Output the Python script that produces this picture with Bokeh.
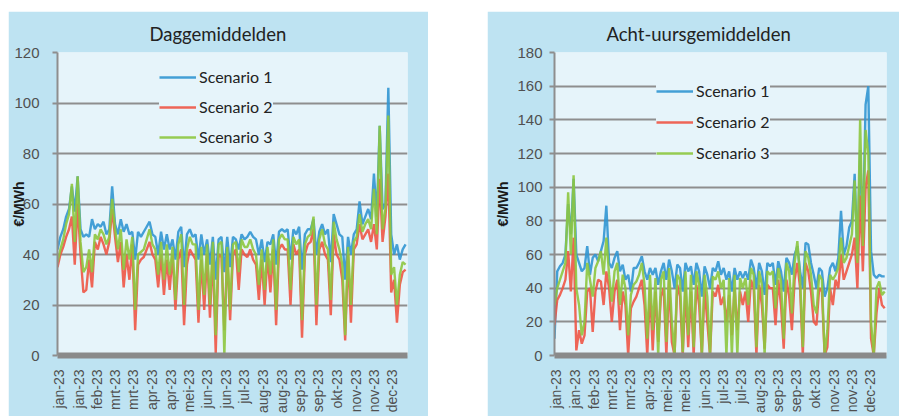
from math import pi
from bokeh.plotting import figure
from bokeh.layouts import row, column
from bokeh.models import Range1d, Legend, LegendItem, FixedTicker, Spacer
from bokeh.embed import file_html
from bokeh.resources import INLINE

# ---------------- data ----------------
series_names = ["Scenario 1", "Scenario 2", "Scenario 3"]

# day index (every third day of 2023)
days = list(range(0, 365, 3))

# Daggemiddelden (€/MWh)
day_s1 = [42, 47, 50, 55, 58, 67, 57, 71, 50, 47,
          48, 47, 54, 50, 52, 51, 53, 48, 50, 67,
          52, 48, 54, 49, 52, 48, 49, 38, 49, 47,
          49, 51, 53, 48, 47, 40, 49, 42, 48, 42,
          46, 38, 49, 51, 35, 48, 50, 47, 48, 38,
          48, 40, 46, 36, 47, 30, 46, 47, 33, 47,
          35, 47, 46, 42, 48, 46, 47, 49, 47, 46,
          40, 46, 37, 45, 44, 48, 36, 49, 50, 49,
          50, 38, 50, 48, 51, 34, 48, 50, 50, 54,
          40, 49, 52, 48, 50, 37, 56, 52, 48, 47,
          30, 47, 40, 48, 50, 61, 52, 55, 58, 54,
          72, 55, 91, 58, 60, 106, 48, 40, 44, 38, 42, 44]
day_s2 = [35, 40, 43, 47, 50, 55, 36, 60, 40, 25,
          26, 38, 27, 45, 42, 47, 44, 40, 45, 58,
          47, 37, 45, 27, 40, 30, 44, 10, 36, 38,
          39, 42, 45, 40, 38, 27, 40, 24, 38, 26,
          40, 18, 38, 42, 12, 36, 42, 40, 38, 13,
          38, 18, 40, 15, 41, 1, 40, 39, 10, 40,
          14, 40, 42, 26, 42, 40, 39, 42, 38, 36,
          22, 38, 20, 40, 25, 42, 12, 42, 44, 42,
          42, 20, 44, 40, 42, 7, 40, 44, 45, 50,
          12, 42, 45, 40, 38, 16, 48, 40, 38, 30,
          6, 40, 13, 42, 44, 52, 46, 48, 50, 45,
          52, 42, 70, 45, 55, 72, 25, 30, 13, 28, 33, 34]
day_s3 = [37, 42, 46, 52, 56, 68, 45, 71, 45, 33,
          35, 42, 33, 48, 46, 50, 48, 44, 47, 62,
          50, 42, 50, 34, 46, 38, 47, 18, 40, 41,
          42, 46, 50, 44, 42, 32, 45, 30, 44, 32,
          43, 22, 44, 48, 20, 42, 47, 44, 44, 18,
          43, 24, 44, 20, 45, 8, 44, 45, 0, 43,
          18, 44, 45, 33, 46, 43, 43, 46, 42, 40,
          28, 42, 26, 43, 32, 46, 18, 46, 48, 46,
          46, 26, 47, 44, 46, 14, 44, 47, 48, 55,
          20, 46, 50, 44, 42, 22, 53, 46, 42, 36,
          8, 43, 20, 45, 47, 56, 49, 52, 54, 50,
          66, 48, 91, 50, 58, 95, 32, 35, 20, 32, 37, 36]

# Acht-uursgemiddelden (€/MWh)
eight_s1 = [10, 50, 53, 55, 60, 90, 72, 105, 60, 55,
            50, 52, 65, 48, 58, 60, 56, 62, 68, 89,
            55, 52, 58, 62, 50, 54, 45, 48, 38, 52,
            52, 55, 59, 50, 45, 52, 48, 52, 42, 50,
            55, 45, 57, 50, 40, 54, 52, 38, 55, 50,
            53, 42, 55, 50, 35, 53, 48, 40, 52, 50,
            56, 48, 52, 45, 50, 38, 52, 45, 50, 46,
            50, 45, 57, 52, 40, 55, 50, 36, 55, 53,
            55, 42, 56, 50, 38, 58, 55, 48, 60, 65,
            50, 40, 67, 66, 55, 48, 40, 52, 50, 35,
            40, 52, 55, 50, 58, 86, 60, 65, 76, 80,
            108, 60, 122, 70, 149, 160, 62, 48, 46, 48, 47, 47]
eight_s2 = [18, 33, 36, 40, 45, 62, 38, 70, 3, 15,
            7, 12, 38, 40, 14, 38, 45, 44, 30, 50,
            40, 20, 38, 45, 15, 38, 30, 0, 28, 32,
            35, 40, 45, 30, 0, 40, 3, 38, 8, 35,
            40, 0, 45, 8, 0, 42, 35, 0, 40, 5,
            38, 0, 42, 30, 0, 40, 20, 0, 38, 35,
            42, 30, 35, 20, 36, 12, 40, 15, 38, 30,
            38, 20, 45, 40, 0, 42, 30, 4, 42, 40,
            40, 18, 45, 30, 4, 45, 35, 15, 45, 55,
            40, 0, 55, 50, 38, 20, 18, 40, 38, 0,
            5, 40, 30, 45, 40, 60, 45, 50, 55, 60,
            70, 40, 95, 50, 100, 110, 10, 0, 25, 40, 30, 28]
eight_s3 = [30, 40, 45, 50, 55, 97, 60, 107, 40, 30,
            12, 20, 55, 45, 35, 52, 56, 62, 48, 70,
            48, 32, 50, 55, 30, 48, 40, 12, 36, 42,
            44, 48, 55, 42, 10, 48, 15, 46, 0, 45,
            50, 8, 52, 20, 0, 48, 45, 2, 50, 12,
            48, 5, 50, 42, 0, 48, 35, 0, 47, 45,
            50, 40, 45, 0, 46, 0, 48, 0, 46, 40,
            46, 30, 52, 48, 5, 50, 42, 0, 50, 48,
            50, 28, 52, 44, 10, 55, 50, 25, 55, 68,
            46, 5, 62, 58, 48, 30, 25, 48, 45, 0,
            15, 48, 45, 48, 52, 70, 55, 58, 65, 72,
            104, 55, 140, 65, 134, 120, 20, 0, 40, 44, 36, 38]

left_tick_labels = ["jan-23", "jan-23", "feb-23", "mrt-23", "mrt-23", "apr-23", "apr-23",
                    "mei-23", "jun-23", "jun-23", "jul-23", "aug-23", "aug-23", "sep-23",
                    "sep-23", "okt-23", "nov-23", "nov-23", "dec-23"]
right_tick_labels = ["jan-23", "jan-23", "feb-23", "mrt-23", "mrt-23", "apr-23", "mei-23",
                     "mei-23", "jun-23", "jul-23", "jul-23", "aug-23", "sep-23", "sep-23",
                     "okt-23", "nov-23", "nov-23", "dec-23"]

# ---------------- style ----------------
PANEL = "#bee3f2"
PLOT = "#e6f4fa"
GRID = "#8e8e8e"
COLORS = ["#3196d2", "#ee5545", "#8dc63f"]
TXT = "#505050"
FIG_H = 405


def make_panel(title, s1, s2, s3, ymax, tick_labels, tick_start, tick_step,
               width, bl, br, bb, title_offset, ylab_standoff, ytick_standoff, leg_loc, leg_spacing):
    p = figure(width=width, height=FIG_H, x_range=Range1d(0, 365), y_range=Range1d(0, ymax),
               output_backend="svg", toolbar_location=None,
               min_border_left=bl, min_border_right=br, min_border_top=41, min_border_bottom=bb,
               background_fill_color=PLOT, border_fill_color=PANEL, outline_line_color=None)
    rs = []
    for ys, c in zip([s1, s2, s3], COLORS):
        rs.append(p.line(days, ys, line_color=c, line_width=2.4, line_alpha=0.9))

    p.title.text = title
    p.title.align = "left"
    p.title.offset = title_offset
    p.title.text_font = "Lato"
    p.title.text_font_size = "18.5px"
    p.title.text_font_style = "normal"
    p.title.text_color = "#222222"
    p.title.standoff = 15

    p.xgrid.grid_line_color = None
    p.ygrid.grid_line_color = GRID
    p.ygrid.grid_line_width = 2
    p.yaxis.ticker = FixedTicker(ticks=list(range(0, ymax + 1, 20)))
    p.yaxis.axis_line_color = GRID
    p.yaxis.axis_line_width = 2
    p.yaxis.major_tick_line_color = GRID
    p.yaxis.major_tick_line_width = 2
    p.yaxis.major_tick_out = 5
    p.yaxis.major_tick_in = 0
    p.yaxis.minor_tick_line_color = None
    p.yaxis.major_label_text_font = "Liberation Sans"
    p.yaxis.major_label_text_font_size = "15px"
    p.yaxis.major_label_text_color = TXT
    p.yaxis.major_label_standoff = ytick_standoff
    p.yaxis.axis_label = "€/MWh"
    p.yaxis.axis_label_text_font = "Liberation Sans"
    p.yaxis.axis_label_text_font_size = "14px"
    p.yaxis.axis_label_text_font_style = "bold"
    p.yaxis.axis_label_text_color = "#1a1a1a"
    p.yaxis.axis_label_standoff = ylab_standoff

    ticks = [round(tick_start + tick_step * k) for k in range(len(tick_labels))]
    p.xaxis.ticker = FixedTicker(ticks=ticks)
    p.xaxis.major_label_overrides = {t: lab for t, lab in zip(ticks, tick_labels)}
    p.xaxis.major_label_orientation = pi / 2
    p.xaxis.major_label_text_font = "Liberation Sans"
    p.xaxis.major_label_text_font_size = "14px"
    p.xaxis.major_label_text_color = TXT
    p.xaxis.major_label_standoff = 8
    p.xaxis.major_tick_line_color = None
    p.xaxis.minor_tick_line_color = None
    p.xaxis.axis_line_color = "#8a8a8a"
    p.xaxis.axis_line_width = 6

    legend = Legend(items=[LegendItem(label=n, renderers=[r]) for n, r in zip(series_names, rs)],
                    location=leg_loc, orientation="vertical",
                    background_fill_color=PLOT, background_fill_alpha=1.0,
                    border_line_color=None, padding=5, margin=0,
                    glyph_width=37, glyph_height=18, label_height=18, label_standoff=3,
                    spacing=leg_spacing, label_text_font="Lato", label_text_font_size="16px",
                    label_text_color="#222222")
    p.add_layout(legend)
    return p


left = make_panel("Daggemiddelden", day_s1, day_s2, day_s3, 120, left_tick_labels, 2.4, 19.26,
                  420, 49, 21, 60, 92, -16, 13, (102, 209), 11)
right = make_panel("Acht-uursgemiddelden", eight_s1, eight_s2, eight_s3, 180, right_tick_labels, 2.2, 20.3,
                   412, 67, 13, 61, 52, 3, 7, (102, 193), 12)

layout = column(Spacer(width=899, height=11),
                row(Spacer(width=8, height=FIG_H), left, Spacer(width=59, height=FIG_H), right))

open("out.html", "w").write(file_html(layout, INLINE))
